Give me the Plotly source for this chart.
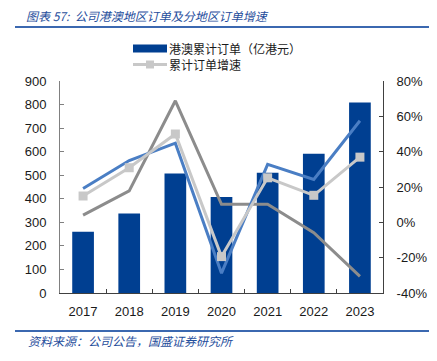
import plotly.graph_objects as go

years = ["2017", "2018", "2019", "2020", "2021", "2022", "2023"]
orders = [260, 337, 507, 408, 511, 591, 809]          # 港澳累计订单（亿港元）
growth_total = [14.9, 30.9, 50.0, -19.4, 25.2, 15.3, 36.9]   # 累计订单增速 (%)
growth_blue = [19.1, 35.0, 44.8, -28.8, 32.8, 24.3, 57.5]    # unlabelled series (%)
growth_grey = [4.1, 17.8, 68.8, 10.2, 10.2, -5.9, -30.6]     # unlabelled series (%)

left_ticks = [0, 100, 200, 300, 400, 500, 600, 700, 800, 900]
right_ticks = [-40, -20, 0, 20, 40, 60, 80]
right_labels = [f"{v}%" for v in right_ticks]
bar_name = "港澳累计订单（亿港元）"
line_name = "累计订单增速"

BAR = "#003F91"
BLUE = "#4A7EC4"
LGREY = "#C8C8C8"
DGREY = "#8C8C8C"
TXT = "#1a1a1a"
HEAD = "#1F4E9C"
RULE = "#3B68B0"
CJK = "Noto Sans CJK SC"
NUM = "Liberation Sans"

# page geometry (the page body adds an 8px margin, figure is shifted by 8px)
PL, PR, PT, PB = 60, 383, 81, 293
PW, PH = PR - PL, PB - PT


def px(x):
    return (x - PL) / PW


def py(y):
    return (PB - y) / PH


fig = go.Figure()
fig.add_trace(go.Bar(x=years, y=orders, name=bar_name,
                     marker=dict(color=BAR, line=dict(width=0)), width=0.47))
fig.add_trace(go.Scatter(x=years, y=growth_grey, yaxis="y2", mode="lines",
                         line=dict(color=DGREY, width=3)))
fig.add_trace(go.Scatter(x=years, y=growth_blue, yaxis="y2", mode="lines",
                         line=dict(color=BLUE, width=3)))
fig.add_trace(go.Scatter(x=years, y=growth_total, yaxis="y2", mode="lines+markers",
                         name=line_name,
                         line=dict(color=LGREY, width=3),
                         marker=dict(symbol="square", size=9, color=LGREY)))

fig.update_layout(
    width=429, height=353,
    margin=dict(l=PL - 8, r=437 - PR, t=PT - 8, b=361 - PB, autoexpand=False),
    paper_bgcolor="white", plot_bgcolor="white",
    font=dict(family=NUM, size=13, color=TXT),
    showlegend=False,
    xaxis=dict(type="category", showline=True, linecolor="#404040", linewidth=1,
               ticks="inside", ticklen=4, tickcolor="#404040", tickson="boundaries",
               showgrid=False, ticklabelstandoff=6,
               tickfont=dict(family=NUM, size=13, color=TXT)),
    yaxis=dict(range=[0, 900], tickvals=left_ticks, showline=True, linecolor="#808080",
               ticks="inside", ticklen=4, tickcolor="#808080", showgrid=False,
               zeroline=False, ticklabelstandoff=10,
               tickfont=dict(family=NUM, size=13, color=TXT)),
    yaxis2=dict(range=[-40, 80], tickvals=right_ticks, ticktext=right_labels,
                overlaying="y", side="right", showline=True, linecolor="#404040",
                ticks="inside", ticklen=4, tickcolor="#404040", showgrid=False,
                zeroline=False, ticklabelstandoff=10,
                tickfont=dict(family=NUM, size=13, color=TXT)),
    bargap=0.53,
)

# legend (drawn as shapes + text so the bar key is a wide rectangle)
R1, R2 = 48.5, 64.5
fig.add_shape(type="rect", xref="paper", yref="paper",
              x0=px(133), x1=px(167), y0=py(R1 + 4), y1=py(R1 - 4),
              fillcolor=BAR, line=dict(width=0))
fig.add_annotation(text=bar_name, xref="paper", yref="paper", x=px(168), y=py(R1),
                   xanchor="left", yanchor="middle", showarrow=False, borderpad=0,
                   font=dict(family=CJK, size=12, color=TXT))
fig.add_shape(type="line", xref="paper", yref="paper",
              x0=px(133), x1=px(167), y0=py(R2), y1=py(R2),
              line=dict(color=LGREY, width=3))
fig.add_shape(type="rect", xref="paper", yref="paper",
              x0=px(146), x1=px(154), y0=py(R2 + 4), y1=py(R2 - 4),
              fillcolor=LGREY, line=dict(width=0))
fig.add_annotation(text=line_name, xref="paper", yref="paper", x=px(168), y=py(R2),
                   xanchor="left", yanchor="middle", showarrow=False, borderpad=0,
                   font=dict(family=CJK, size=12, color=TXT))

# header and footer
fig.add_annotation(text="<i>图表 57:  公司港澳地区订单及分地区订单增速</i>",
                   xref="paper", yref="paper", x=px(25), y=py(15.5),
                   xanchor="left", yanchor="middle", showarrow=False, borderpad=0,
                   font=dict(family=CJK, size=12, color=HEAD))
fig.add_shape(type="line", xref="paper", yref="paper",
              x0=px(15), x1=px(437), y0=py(27), y1=py(27),
              line=dict(color=RULE, width=2))
fig.add_shape(type="line", xref="paper", yref="paper",
              x0=px(15), x1=px(437), y0=py(331), y1=py(331),
              line=dict(color=RULE, width=2))
fig.add_annotation(text="<i>资料来源：公司公告，国盛证券研究所</i>",
                   xref="paper", yref="paper", x=px(26), y=py(340),
                   xanchor="left", yanchor="middle", showarrow=False,
                   font=dict(family=CJK, size=12, color=HEAD))

fig.write_html("out.html")
